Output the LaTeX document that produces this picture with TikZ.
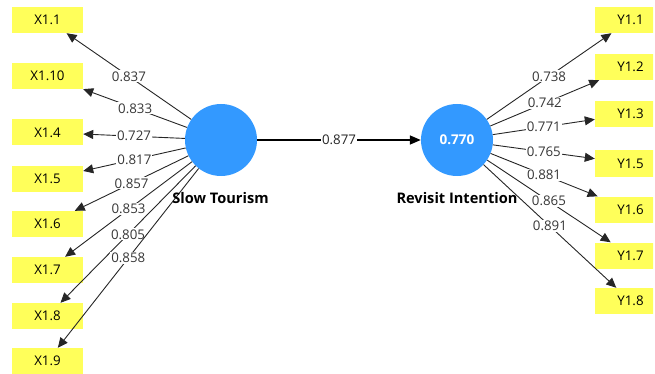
\documentclass[tikz,border=0pt]{standalone}
\usepackage{fontspec}
\setmainfont{Open Sans}
\usetikzlibrary{arrows.meta}
\definecolor{indyellow}{RGB}{255,255,90}
\definecolor{lvblue}{RGB}{51,153,255}
\definecolor{txtgray}{RGB}{55,55,55}

\begin{document}
\begin{tikzpicture}[x=1pt,y=-1pt]
			\tikzstyle{ind}=[fill=indyellow,minimum width=71pt,minimum height=26pt,inner sep=0pt,font=\fontsize{13.3}{15}\selectfont];
			\tikzstyle{lv}=[shape=circle,fill=lvblue,minimum size=72pt,inner sep=0pt,text=white,font=\fontsize{13.5}{15}\selectfont\bfseries];
			\tikzstyle{lvname}=[font=\fontsize{14.6}{16}\selectfont\bfseries];
			\tikzstyle{ld}=[draw=black!85,line width=0.9pt,-{Triangle[length=10pt,width=9pt]}];
			\tikzstyle{pc}=[draw=black,line width=1.5pt,-{Triangle[length=11pt,width=9pt]}];
			\tikzstyle{lbl}=[fill=white,inner sep=1pt,text=txtgray,font=\fontsize{13.3}{15}\selectfont];
			\useasboundingbox (0,0) rectangle (655,374);
			\clip (0,0) rectangle (653,374);
			% latent variables
			\node[lv] (st) at (221,140) {};
			\node[lv] (ri) at (457,140) {0.770};
			% indicators
			\node[ind] (x11)  at (47.5,20)  {X1.1};
			\node[ind] (x110) at (47.5,76)  {X1.10};
			\node[ind] (x14)  at (47.5,132.5) {X1.4};
			\node[ind] (x15)  at (47.5,179) {X1.5};
			\node[ind] (x16)  at (47.5,224) {X1.6};
			\node[ind] (x17)  at (47.5,270) {X1.7};
			\node[ind] (x18)  at (47.5,316) {X1.8};
			\node[ind] (x19)  at (47.5,361) {X1.9};
			\node[ind] (y11)  at (630.5,20)  {Y1.1};
			\node[ind] (y12)  at (630.5,67)  {Y1.2};
			\node[ind] (y13)  at (630.5,114) {Y1.3};
			\node[ind] (y15)  at (630.5,163.5) {Y1.5};
			\node[ind] (y16)  at (630.5,209.5) {Y1.6};
			\node[ind] (y17)  at (630.5,255.5) {Y1.7};
			\node[ind] (y18)  at (630.5,301) {Y1.8};
			% loadings
			\draw[ld] (st) -- node[lbl] {0.837} (x11);
			\draw[ld] (st) -- node[lbl] {0.833} (x110);
			\draw[ld] (st) -- node[lbl] {0.727} (x14);
			\draw[ld] (st) -- node[lbl] {0.817} (x15);
			\draw[ld] (st) -- node[lbl] {0.857} (x16);
			\draw[ld] (st) -- node[lbl] {0.853} (x17);
			\draw[ld] (st) -- node[lbl] {0.805} (x18);
			\draw[ld] (st) -- node[lbl] {0.858} (x19);
			\draw[ld] (ri) -- node[lbl] {0.738} (y11);
			\draw[ld] (ri) -- node[lbl] {0.742} (y12);
			\draw[ld] (ri) -- node[lbl] {0.771} (y13);
			\draw[ld] (ri) -- node[lbl] {0.765} (y15);
			\draw[ld] (ri) -- node[lbl] {0.881} (y16);
			\draw[ld] (ri) -- node[lbl] {0.865} (y17);
			\draw[ld] (ri) -- node[lbl] {0.891} (y18);
			% path coefficient
			\draw[pc] (st) -- node[lbl,text=black!85] {0.877} (ri);
			\node[lvname] (stname) at (220.5,198) {Slow Tourism};
			\node[lvname] (riname) at (457,198) {Revisit Intention};
		\end{tikzpicture}
\end{document}
